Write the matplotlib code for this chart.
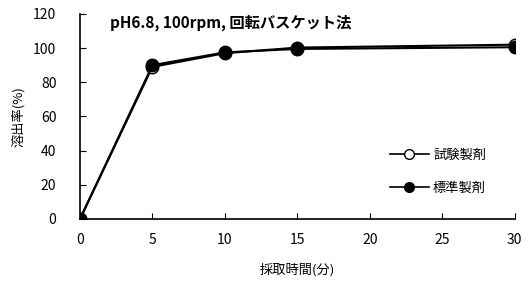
import matplotlib
matplotlib.use('Agg')
import matplotlib.pyplot as plt
from matplotlib.lines import Line2D

plt.rcParams['font.family'] = ['Noto Sans CJK JP', 'DejaVu Sans']

times = [0, 5, 10, 15, 30]
test_vals = [0, 89.0, 97.0, 100.3, 102.0]
test_err = [0, 2.5, 1.0, 1.0, 1.0]
ref_vals = [0, 90.0, 97.5, 99.5, 100.5]
ref_err = [0, 3.0, 1.0, 1.0, 1.0]

title = 'pH6.8, 100rpm, 回転バスケット法'
xlabel = '採取時間(分)'
ylabel = '溶出率(%)'
labels = ['試験製剤', '標準製剤']

fig = plt.figure(figsize=(5.28, 2.84), dpi=100)
ax = fig.add_axes([0.1515, 0.229, 0.823, 0.722])

ax.errorbar(times, test_vals, yerr=test_err, color='black', marker='o', markersize=9,
            markerfacecolor='white', markeredgecolor='black', linewidth=1.5,
            capsize=3, elinewidth=1, zorder=3)
ax.errorbar(times, ref_vals, yerr=ref_err, color='black', marker='o', markersize=9,
            markerfacecolor='black', markeredgecolor='black', linewidth=1.5,
            capsize=3, elinewidth=1, zorder=4)

ax.set_xlim(0, 30)
ax.set_ylim(0, 120)
ax.set_xticks([0, 5, 10, 15, 20, 25, 30])
ax.set_yticks(range(0, 121, 20))
ax.tick_params(direction='in', length=4, labelsize=10)
ax.tick_params(axis='y', pad=17)
ax.tick_params(axis='x', pad=10)
for s in ['top', 'right']:
    ax.spines[s].set_visible(False)
ax.spines['left'].set_linewidth(1.2)
ax.spines['bottom'].set_linewidth(1.2)
for sp in ['left', 'bottom']:
    ax.spines[sp].set_clip_on(False)

ax.set_xlabel(xlabel, fontsize=9.5, labelpad=12)
ax.set_ylabel(ylabel, fontsize=9.5, labelpad=6)
ax.text(0.07, 0.955, title, transform=ax.transAxes, fontsize=11, fontweight='bold',
        va='center', ha='left')

handles = [
    Line2D([], [], color='black', marker='o', markersize=7, markerfacecolor='white', linewidth=1.2),
    Line2D([], [], color='black', marker='o', markersize=7, markerfacecolor='black', linewidth=1.2),
]
ax.legend(handles, labels, loc='center left', bbox_to_anchor=(0.685, 0.23), frameon=False,
          fontsize=9.5, handlelength=3, labelspacing=1.5, handletextpad=0.3)

fig.savefig('out.png', dpi=100)
